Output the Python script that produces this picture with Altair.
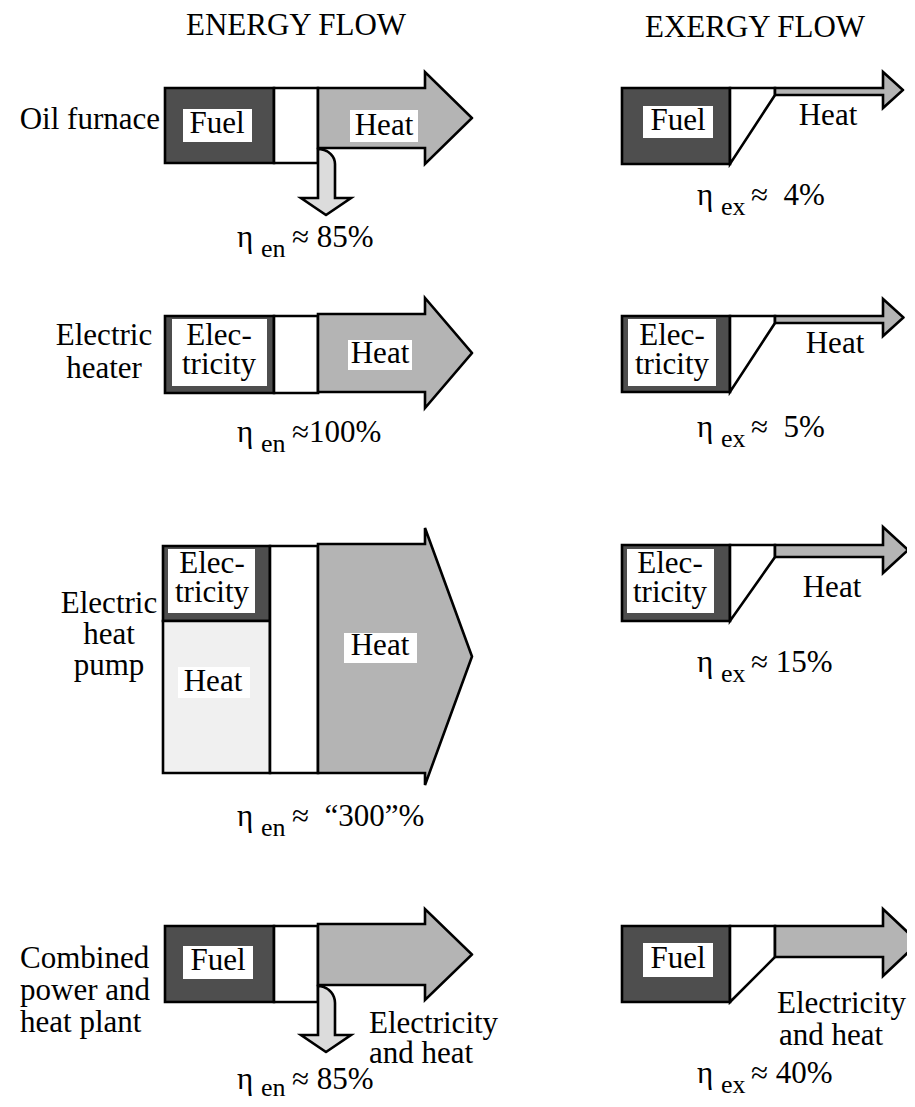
import altair as alt
import pandas as pd
import numpy as np

# ------------------------------------------------------------------ data
process_lines = [["Oil furnace"], ["Electric", "heater"], ["Electric", "heat", "pump"],
                 ["Combined", "power and", "heat plant"]]
input_labels = [["Fuel"], ["Elec-", "tricity"], ["Elec-", "tricity"], ["Fuel"]]
output_labels = [["Heat"], ["Heat"], ["Heat"], ["Electricity", "and heat"]]
eta_en = ["\u2248 85%", "\u2248100%", "\u2248 \u00a0\u201c300\u201d%", "\u2248 85%"]
eta_ex = ["\u2248 \u00a04%", "\u2248 \u00a05%", "\u2248 15%", "\u2248 40%"]
titles = ["ENERGY FLOW", "EXERGY FLOW"]

# drawn flow geometry (diagram units)
en_in_top = [88, 316, 546, 926]
en_in_bot = [163, 393, 773, 1002]
en_out_top = [88, 314, 544, 924]
en_out_bot = [148, 392, 773, 985]
en_head_top = [72, 298, 528, 909]
en_head_bot = [164, 408, 785, 1000]
hp_split = 621                     # electricity / ambient heat split (heat pump)
loss_rows = [0, 3]                 # rows with a loss arrow
loss_len = [49, 49]
ex_in_top = [88, 316, 545, 926]
ex_in_bot = [164, 392, 621, 1002]
ex_out_bot = [95, 323, 557, 957]
ex_head_top = [72, 299, 527, 909]
ex_head_bot = [108, 336, 573, 976]

# ------------------------------------------------------------------ layout
EN_X = [165, 274, 318, 425, 472]   # input box, gap, shaft end, tip
EX_X = [622, 730, 775, 883]
DARK, MID, LIGHT, LOSS = "#4e4e4e", "#b4b4b4", "#f0f0f0", "#dcdcdc"
FONT = "Liberation Serif"
EPS = 0.01

rects, areas, hareas, bgs, texts = [], [], [], [], []


def T(x, y, s, size=31, align="center"):
    texts.append(dict(x=x, y=y, t=s, size=size, align=align))


for i in range(4):
    # ---------------- energy column
    if i == 2:
        rects.append(dict(x=EN_X[0] - 2, x2=EN_X[1] - 4, y=en_in_top[i], y2=hp_split, fill=DARK))
        rects.append(dict(x=EN_X[0] - 2, x2=EN_X[1] - 4, y=hp_split, y2=en_in_bot[i], fill=LIGHT))
        rects.append(dict(x=EN_X[1] - 4, x2=EN_X[2], y=en_in_top[i], y2=en_in_bot[i], fill="white"))
    else:
        rects.append(dict(x=EN_X[0], x2=EN_X[1], y=en_in_top[i], y2=en_in_bot[i], fill=DARK))
        rects.append(dict(x=EN_X[1], x2=EN_X[2], y=en_in_top[i], y2=en_in_bot[i], fill="white"))
    tip = (en_head_top[i] + en_head_bot[i]) / 2
    pts = [(EN_X[2], en_out_top[i], en_out_bot[i]), (EN_X[3], en_out_top[i], en_out_bot[i]),
           (EN_X[3] + EPS, en_head_top[i], en_head_bot[i]), (EN_X[4], tip, tip + EPS)]
    for (x, y, y2) in pts:
        areas.append(dict(shape=f"en{i}", x=x, y=y, y2=y2, fill=MID))
    # ---------------- exergy column
    rects.append(dict(x=EX_X[0], x2=EX_X[1], y=ex_in_top[i], y2=ex_in_bot[i], fill=DARK))
    areas.append(dict(shape=f"tr{i}", x=EX_X[1], y=ex_in_top[i], y2=ex_in_bot[i], fill="white"))
    areas.append(dict(shape=f"tr{i}", x=EX_X[2], y=ex_in_top[i], y2=ex_out_bot[i], fill="white"))
    half = (ex_head_bot[i] - ex_head_top[i]) / 2
    tip = (ex_head_top[i] + ex_head_bot[i]) / 2
    pts = [(EX_X[2], ex_in_top[i], ex_out_bot[i]), (EX_X[3], ex_in_top[i], ex_out_bot[i]),
           (EX_X[3] + EPS, ex_head_top[i], ex_head_bot[i]), (EX_X[3] + half + 2, tip, tip + EPS)]
    for (x, y, y2) in pts:
        areas.append(dict(shape=f"ex{i}", x=x, y=y, y2=y2, fill=MID))

# loss arrows (vertical, rounded top-right corner)
for j, i in enumerate(loss_rows):
    x0, x1 = EN_X[2], EN_X[2] + 17
    top = en_out_bot[i] + 1
    r = en_in_bot[i] - top + 1
    for a in np.linspace(0, np.pi / 2, 10):
        hareas.append(dict(shape=f"loss{i}", y=top + r - r * np.cos(a), x=x0, x2=x0 + 17 * np.sin(a) + EPS))
    yb = top + loss_len[j]
    hareas.append(dict(shape=f"loss{i}", y=yb, x=x0, x2=x1))
    hareas.append(dict(shape=f"loss{i}", y=yb + EPS, x=x0 - 17, x2=x1 + 16))
    hareas.append(dict(shape=f"loss{i}", y=yb + 17, x=x0 + 8, x2=x0 + 8 + EPS))

# ------------------------------------------------------------------ texts
T(186, 35, titles[0], align="left")
T(645, 37, titles[1], align="left")

T(160, 129, process_lines[0][0], align="right")
for s, b in zip(process_lines[1], [345, 378]):
    T(104, b, s)
for s, b in zip(process_lines[2], [613, 644, 675]):
    T(109, b, s)
for s, b in zip(process_lines[3], [968, 1000, 1032]):
    T(20, b, s, align="left")

# label backgrounds + labels inside boxes / arrows
bg_boxes = [(183, 252, 109, 142), (350, 418, 110, 142), (643, 713, 106, 138),
            (172, 267, 319, 386), (348, 412, 340, 370), (628, 716, 319, 386),
            (168, 255, 549, 613), (344, 417, 633, 663), (178, 250, 667, 698), (627, 714, 549, 613),
            (183, 253, 946, 979), (643, 713, 943, 977)]
for (a, b, c, d) in bg_boxes:
    bgs.append(dict(x=a, x2=b, y=c, y2=d))

T(217, 133, input_labels[0][0]); T(384, 135, output_labels[0][0])
T(678, 130, input_labels[0][0]); T(828, 125, output_labels[0][0])
T(219, 345, input_labels[1][0]); T(219, 374, input_labels[1][1]); T(380, 363, output_labels[1][0])
T(672, 345, input_labels[1][0]); T(672, 374, input_labels[1][1]); T(835, 353, output_labels[1][0])
T(212, 573, input_labels[2][0]); T(212, 602, input_labels[2][1]); T(380, 655, output_labels[2][0])
T(213, 691, "Heat")
T(670, 573, input_labels[2][0]); T(670, 602, input_labels[2][1]); T(832, 597, output_labels[2][0])
T(218, 970, input_labels[3][0]); T(678, 968, input_labels[3][0])
T(369, 1033, output_labels[3][0], align="left"); T(369, 1063, output_labels[3][1], align="left")
T(777, 1013, output_labels[3][0], align="left"); T(779, 1045, output_labels[3][1], align="left")

en_base = [247, 442, 826, 1089]
en_sub = [10, 10, 10, 7]
ex_base = [205, 437, 672, 1083]
for i in range(4):
    T(237, en_base[i], "\u03b7", align="left")
    T(261, en_base[i] + en_sub[i], "en", size=26, align="left")
    T(292, en_base[i], eta_en[i], align="left")
    T(697, ex_base[i], "\u03b7", align="left")
    T(721, ex_base[i] + 10, "ex", size=26, align="left")
    T(751, ex_base[i], eta_ex[i], align="left")

# ------------------------------------------------------------------ chart
W, H = 899, 1091
xs = alt.Scale(domain=[8, 8 + W], nice=False, zero=False)
ys = alt.Scale(domain=[8, 8 + H], nice=False, zero=False, reverse=True)
ax = None

df_r = pd.DataFrame(rects)
df_a = pd.DataFrame(areas)
df_h = pd.DataFrame(hareas)
df_bg = pd.DataFrame(bgs)
df_t = pd.DataFrame(texts)

boxes = alt.Chart(df_r).mark_rect(stroke="black", strokeWidth=2.6).encode(
    x=alt.X("x:Q", scale=xs, axis=ax), x2="x2", y=alt.Y("y:Q", scale=ys, axis=ax), y2="y2",
    fill=alt.Fill("fill:N", scale=None))

arrows = alt.Chart(df_a).mark_area(orient="vertical", stroke="black", strokeWidth=2.6,
                                   interpolate="linear").encode(
    x=alt.X("x:Q", scale=xs, axis=ax), y=alt.Y("y:Q", scale=ys, axis=ax, stack=None), y2="y2",
    fill=alt.Fill("fill:N", scale=None), detail="shape:N")

losses = alt.Chart(df_h).mark_area(orient="horizontal", stroke="black", strokeWidth=2.6,
                                   fill=LOSS, interpolate="linear").encode(
    y=alt.Y("y:Q", scale=ys, axis=ax), x=alt.X("x:Q", scale=xs, axis=ax, stack=None), x2="x2",
    detail="shape:N")

backs = alt.Chart(df_bg).mark_rect(fill="white").encode(
    x=alt.X("x:Q", scale=xs, axis=ax), x2="x2", y=alt.Y("y:Q", scale=ys, axis=ax), y2="y2")

layers = [boxes, arrows, losses, backs]
for al in ["left", "center", "right"]:
    sub = df_t[df_t["align"] == al]
    layers.append(alt.Chart(sub).mark_text(align=al, baseline="alphabetic", font=FONT,
                                           color="black").encode(
        x=alt.X("x:Q", scale=xs, axis=ax), y=alt.Y("y:Q", scale=ys, axis=ax),
        text="t:N", size=alt.Size("size:Q", scale=None, legend=None)))

chart = alt.layer(*layers).properties(
    width=W, height=H, padding=0, autosize="none", background="white"
).configure_view(stroke=None)

chart.save("out.html", embed_options={"renderer": "svg", "actions": False})
